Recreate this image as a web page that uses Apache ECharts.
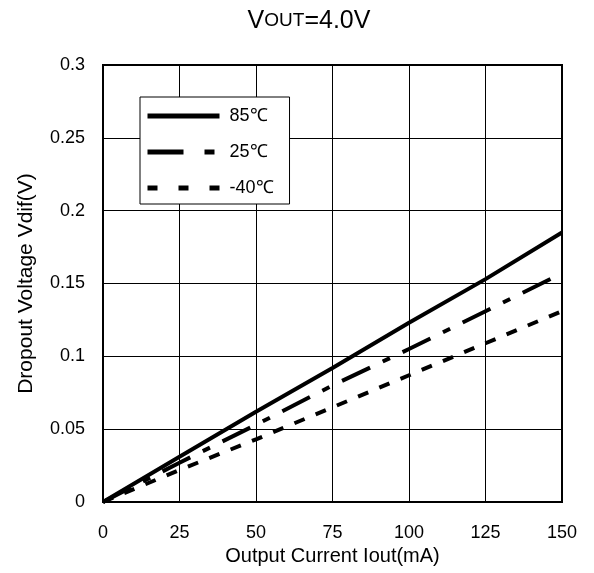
<!DOCTYPE html>
<html>
<head>
<meta charset="utf-8">
<script src="https://cdn.jsdelivr.net/npm/echarts@6/dist/echarts.min.js"></script>
<style>
html,body{margin:0;padding:0;background:#fff;}
#c{width:594px;height:573px;}
</style>
</head>
<body>
<div id="c"></div>
<script>
var currents = [0, 25, 50, 75, 100, 125, 150];
var v85 = [0, 0.031, 0.062, 0.092, 0.123, 0.153, 0.185];
var v25 = [0, 0.027, 0.053, 0.080, 0.105, 0.131, 0.157];
var vm40 = [0, 0.022, 0.043, 0.065, 0.087, 0.109, 0.131];
var seriesNames = ['85℃', '25℃', '-40℃'];
var xTickLabels = ['0', '25', '50', '75', '100', '125', '150'];
var yTickLabels = ['0', '0.05', '0.1', '0.15', '0.2', '0.25', '0.3'];

function pairs(ys) { return currents.map(function (x, i) { return [x, ys[i]]; }); }

var FONT = '"Liberation Sans", Arial, sans-serif';
var chart = echarts.init(document.getElementById('c'), null, {renderer: 'canvas'});
var dash25 = [31, 14, 8, 14];
var dash40 = [11, 12];
var hideSym = {opacity: 0, color: 'transparent', borderWidth: 0};
chart.setOption({
  animation: false,
  backgroundColor: '#fff',
  graphic: [{
    type: 'text', x: 309, y: 21,
    style: {
      text: '{a|V}{b|OUT}{a|=4.0V}',
      align: 'center', verticalAlign: 'middle',
      rich: {
        a: {fontSize: 25, fontFamily: FONT, fill: '#000'},
        b: {fontSize: 19, fontFamily: FONT, fill: '#000'}
      }
    }
  }],
  grid: {left: 103, right: 32, top: 65, bottom: 71, show: true, borderColor: '#000', borderWidth: 2, backgroundColor: 'transparent'},
  legend: {
    orient: 'vertical', left: 140, top: 97,
    padding: [9, 16, 6, 5],
    itemWidth: 72, itemHeight: 14, itemGap: 16,
    borderColor: '#000', borderWidth: 1, backgroundColor: '#fff',
    textStyle: {fontSize: 18, fontFamily: FONT, color: '#000', lineHeight: 20, padding: [0, 0, 0, 5]},
    itemStyle: hideSym,
    data: [
      {name: seriesNames[0], itemStyle: hideSym, lineStyle: {width: 5, type: 'solid', color: '#000'}},
      {name: seriesNames[1], itemStyle: hideSym, lineStyle: {width: 5, type: [36, 21, 10, 21], color: '#000'}},
      {name: seriesNames[2], itemStyle: hideSym, lineStyle: {width: 5, type: [10, 21], color: '#000'}}
    ]
  },
  xAxis: {
    type: 'value', min: 0, max: 150, interval: 25,
    name: 'Output Current Iout(mA)', nameLocation: 'middle', nameGap: 43,
    nameTextStyle: {fontSize: 20, fontFamily: FONT, color: '#000'},
    axisLine: {show: true, lineStyle: {color: '#000', width: 2}},
    axisTick: {show: false},
    axisLabel: {fontSize: 18, fontFamily: FONT, color: '#000', margin: 22,
      formatter: function (v) { return xTickLabels[Math.round(v / 25)]; }},
    splitLine: {show: true, lineStyle: {color: '#000', width: 1}}
  },
  yAxis: {
    type: 'value', min: 0, max: 0.3, interval: 0.05,
    name: 'Dropout Voltage Vdif(V)', nameLocation: 'middle', nameGap: 66, nameRotate: 90,
    nameTextStyle: {fontSize: 21, fontFamily: FONT, color: '#000'},
    axisLine: {show: true, lineStyle: {color: '#000', width: 2}},
    axisTick: {show: false},
    axisLabel: {fontSize: 18, fontFamily: FONT, color: '#000', margin: 18,
      formatter: function (v) { return yTickLabels[Math.round(v / 0.05)]; }},
    splitLine: {show: true, lineStyle: {color: '#000', width: 1}}
  },
  series: [
    {name: seriesNames[0], type: 'line', data: pairs(v85), symbol: 'none', color: '#000',
     lineStyle: {color: '#000', width: 4, type: 'solid', cap: 'butt'}, z: 5},
    {name: seriesNames[1], type: 'line', data: pairs(v25), symbol: 'none', color: '#000',
     lineStyle: {color: '#000', width: 4, type: dash25, cap: 'butt'}, z: 4},
    {name: seriesNames[2], type: 'line', data: pairs(vm40), symbol: 'none', color: '#000',
     lineStyle: {color: '#000', width: 4, type: dash40, cap: 'butt'}, z: 3}
  ]
});
</script>
</body>
</html>
